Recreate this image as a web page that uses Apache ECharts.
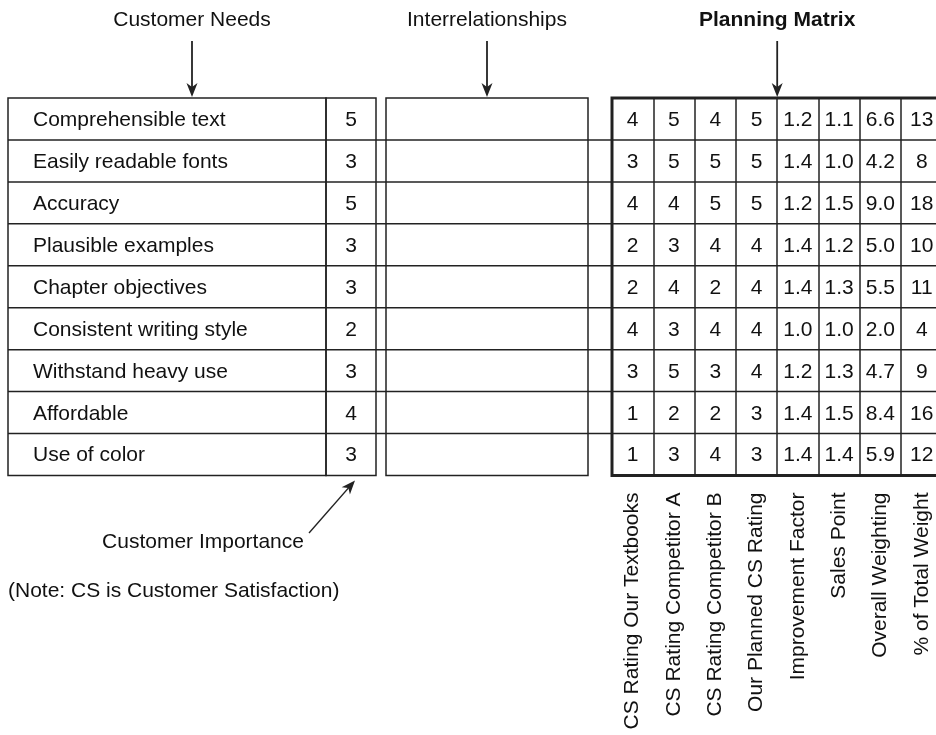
<!DOCTYPE html>
<html><head><meta charset="utf-8">
<script src="https://cdn.jsdelivr.net/npm/echarts@6/dist/echarts.min.js"></script>
<style>html,body{margin:0;padding:0;background:#fff}#c{width:936px;height:735px}</style>
</head><body><div id="c"></div>
<script>
// ---- data ----
const needs = ['Comprehensible text','Easily readable fonts','Accuracy','Plausible examples','Chapter objectives','Consistent writing style','Withstand heavy use','Affordable','Use of color'];
const importance = [5,3,5,3,3,2,3,4,3];
const matrixColumns = ['CS Rating Our Textbooks','CS Rating Competitor A','CS Rating Competitor B','Our Planned CS Rating','Improvement Factor','Sales Point','Overall Weighting','% of Total Weight'];
const csOurs = [4,3,4,2,2,4,3,1,1];
const csCompA = [5,5,4,3,4,3,5,2,3];
const csCompB = [4,5,5,4,2,4,3,2,4];
const plannedCS = [5,5,5,4,4,4,4,3,3];
const improvementFactor = [1.2,1.4,1.2,1.4,1.4,1.0,1.2,1.4,1.4];
const salesPoint = [1.1,1.0,1.5,1.2,1.3,1.0,1.3,1.5,1.4];
const overallWeighting = [6.6,4.2,9.0,5.0,5.5,2.0,4.7,8.4,5.9];
const pctTotalWeight = [13,8,18,10,11,4,9,16,12];
const blockTitles = ['Customer Needs','Interrelationships','Planning Matrix'];
const importanceCaption = 'Customer Importance';
const noteText = '(Note: CS is Customer Satisfaction)';

// ---- layout ----
const FONT = '"Liberation Sans", Arial, Helvetica, sans-serif';
const FS = 21;
const INK = '#111';
const LINE = '#222';
const TOP = 98, ROWH = 41.94, H = ROWH * needs.length;
const G0 = {left: 8, width: 318};     // needs
const G1 = {left: 326, width: 50};    // importance
const G2 = {left: 386, width: 202};   // interrelationships
const G3 = {left: 612, width: 41.3 * matrixColumns.length}; // planning matrix
const GALL = {left: 8, width: G3.left + G3.width - 8};
const TY = 1.2; // small vertical text nudge

const rowIdx = needs.map((n, i) => i);
const matrixCols = [csOurs, csCompA, csCompB, plannedCS, improvementFactor, salesPoint, overallWeighting, pctTotalWeight];
const decimalCols = [4,5,6];
const matrixData = [];
matrixCols.forEach((col, c) => col.forEach((v, r) => {
  matrixData.push([c, r, decimalCols.includes(c) ? v.toFixed(1) : String(v)]);
}));

function mkGrid(g, border, bw) {
  return {left: g.left, width: g.width, top: TOP, height: H, show: border, borderColor: LINE, borderWidth: bw, backgroundColor: 'transparent', containLabel: false, outerBoundsMode: 'none'};
}
function hiddenCat(gi, data, extra) {
  return Object.assign({gridIndex: gi, type: 'category', data: data, axisLine: {show: false}, axisTick: {show: false}, axisLabel: {show: false}, splitLine: {show: false}}, extra || {});
}

const grids = [mkGrid(G0, true, 1.5), mkGrid(G1, true, 1.5), mkGrid(G2, true, 1.5), mkGrid(G3, true, 3), mkGrid(GALL, false, 0)];
const xAxes = [
  hiddenCat(0, ['need']),
  hiddenCat(1, ['imp']),
  hiddenCat(2, ['rel']),
  hiddenCat(3, matrixColumns, {
    splitLine: {show: true, interval: 0, lineStyle: {color: LINE, width: 1.5}},
    axisLabel: {show: true, interval: 0, rotate: 90, margin: 17, fontSize: FS, color: INK, fontFamily: FONT, hideOverlap: false}
  }),
  hiddenCat(4, ['all'])
];
const yAxes = [0,1,2,3,4].map(gi => hiddenCat(gi, rowIdx, {inverse: true}));

function textItem(x, y, text, align) {
  return {type: 'text', x: x, y: y + TY, style: {text: text, fill: INK, font: FS + 'px ' + FONT, textAlign: align, textVerticalAlign: 'middle'}};
}

const series = [
  { // row separator lines spanning all blocks
    type: 'custom', xAxisIndex: 4, yAxisIndex: 4, silent: true,
    data: rowIdx.filter(i => i > 0).map(i => [0, i]),
    renderItem: function (params, api) {
      const c = api.coord([0, api.value(1)]);
      const s = api.size([1, 1]);
      const y = c[1] - s[1] / 2;
      const cs = params.coordSys;
      return {type: 'line', shape: {x1: cs.x, y1: y, x2: cs.x + cs.width, y2: y}, style: {stroke: LINE, lineWidth: 1.5}};
    }
  },
  { // customer needs
    type: 'custom', xAxisIndex: 0, yAxisIndex: 0, silent: true,
    data: needs.map((n, i) => [0, i, n]),
    renderItem: function (params, api) {
      const c = api.coord([0, api.value(1)]);
      const s = api.size([1, 1]);
      return textItem(c[0] - s[0] / 2 + 25, c[1], needs[params.dataIndex], 'left');
    }
  },
  { // importance
    type: 'custom', xAxisIndex: 1, yAxisIndex: 1, silent: true,
    data: importance.map((v, i) => [0, i, v]),
    renderItem: function (params, api) {
      const c = api.coord([0, api.value(1)]);
      return textItem(c[0], c[1], String(importance[params.dataIndex]), 'center');
    }
  },
  { // planning matrix values
    type: 'custom', xAxisIndex: 3, yAxisIndex: 3, silent: true,
    data: matrixData,
    renderItem: function (params, api) {
      const c = api.coord([api.value(0), api.value(1)]);
      return textItem(c[0], c[1], matrixData[params.dataIndex][2], 'center');
    }
  }
];

// ---- annotations (arrows & captions) ----
const centers = [G0.left + (G0.width + G1.width) / 2, G2.left + G2.width / 2, G3.left + G3.width / 2];
function arrowHead(tx, ty, ang) { // ang: direction of travel in radians
  const L = 14, W = 5.5, back = 4;
  const ca = Math.cos(ang), sa = Math.sin(ang);
  const bx = tx - L * ca, by = ty - L * sa;
  const px = -sa, py = ca;
  const ix = tx - (L - back) * ca, iy = ty - (L - back) * sa;
  return {type: 'polygon', silent: true, shape: {points: [[tx, ty], [bx + W * px, by + W * py], [ix, iy], [bx - W * px, by - W * py]]}, style: {fill: LINE}};
}
const graphics = [];
blockTitles.forEach((t, i) => {
  graphics.push({type: 'text', x: centers[i], y: 20, silent: true, style: {text: t, fill: INK, font: (i === 2 ? 'bold ' : '') + FS + 'px ' + FONT, textAlign: 'center', textVerticalAlign: 'middle'}});
  graphics.push({type: 'line', silent: true, shape: {x1: centers[i], y1: 41, x2: centers[i], y2: 90}, style: {stroke: LINE, lineWidth: 1.8}});
  graphics.push(arrowHead(centers[i], 97, Math.PI / 2));
});
// customer importance pointer
const tip = [G1.left + G1.width / 2 + 4, TOP + H + 5];
const tail = [309, 533];
const ang = Math.atan2(tip[1] - tail[1], tip[0] - tail[0]);
graphics.push({type: 'line', silent: true, shape: {x1: tail[0], y1: tail[1], x2: tip[0] - 8 * Math.cos(ang), y2: tip[1] - 8 * Math.sin(ang)}, style: {stroke: LINE, lineWidth: 1.3}});
graphics.push(arrowHead(tip[0], tip[1], ang));
graphics.push({type: 'text', x: 203, y: 542, silent: true, style: {text: importanceCaption, fill: INK, font: FS + 'px ' + FONT, textAlign: 'center', textVerticalAlign: 'middle'}});
graphics.push({type: 'text', x: 8, y: 591, silent: true, style: {text: noteText, fill: INK, font: FS + 'px ' + FONT, textAlign: 'left', textVerticalAlign: 'middle'}});

const chart = echarts.init(document.getElementById('c'), null, {renderer: 'canvas'});
chart.setOption({
  animation: false,
  backgroundColor: '#fff',
  textStyle: {fontFamily: FONT},
  grid: grids, xAxis: xAxes, yAxis: yAxes, series: series, graphic: graphics
});
</script></body></html>
